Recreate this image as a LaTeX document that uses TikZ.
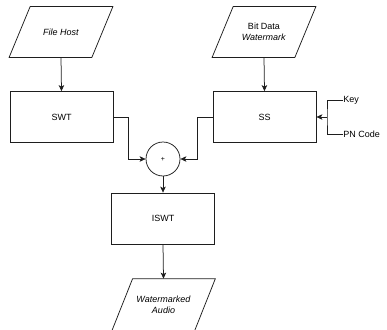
\documentclass[tikz,border=0pt]{standalone}
\usepackage{fontspec}
\setmainfont{Liberation Sans}
\usetikzlibrary{arrows.meta}
\begin{document}
\begin{tikzpicture}[x=1pt,y=-1pt,
  line width=0.75pt, draw={rgb,255:red,30;green,30;blue,30},
  box/.style={draw, minimum width=103pt, minimum height=51pt, inner sep=0pt, font=\fontsize{9}{11}\selectfont},
  para/.style={minimum width=103pt, minimum height=50pt, inner sep=0pt, align=center, font=\fontsize{9}{11}\selectfont},
  arr/.style={-{Stealth[length=6pt,width=5.5pt,inset=1.5pt]}},
  lbl/.style={font=\fontsize{9}{11}\selectfont, inner sep=0pt, anchor=west}]
\useasboundingbox (0,0) rectangle (387,329);
\clip (0,0) rectangle (387,329);
\node[para] (fh) at (61,32) {\textit{File Host}};
\node[para] (bd) at (264,32) {Bit Data\\\textit{Watermark}};
\node[box] (swt) at (61.5,117) {SWT};
\node[box] (ss) at (264.5,117) {SS};
\node[draw, circle, minimum size=34pt, inner sep=0pt, font=\fontsize{7}{7}\selectfont] (add) at (163,159) {+};
\node[box] (iswt) at (163,218.5) {ISWT};
\node[para, minimum height=52pt] (wa) at (163.5,305) {\textit{Watermarked}\\\textit{Audio}};
\foreach \n in {fh,bd,wa}
  \draw (\n.south west) -- ([xshift=21pt]\n.north west) -- (\n.north east) -- ([xshift=-21pt]\n.south east) -- cycle;
\node[lbl] (key) at (343,100) {Key};
\node[lbl] (pnc) at (343,134) {PN Code};
\coordinate (kj) at (327,117);
\draw (key.west) -| (kj) |- (pnc.west);
\draw[arr] (kj) -- (ss.east);
\draw[arr] (fh.south) -- (swt.north);
\draw[arr] (bd.south) -- (ss.north);
\draw[arr] (swt.east) -- (128,117) |- (add.west);
\draw[arr] (ss.west) -- (197,117) |- (add.east);
\draw[arr] (add.south) -- (iswt.north);
\draw[arr] (iswt.south) -- (wa.north);
\end{tikzpicture}
\end{document}
